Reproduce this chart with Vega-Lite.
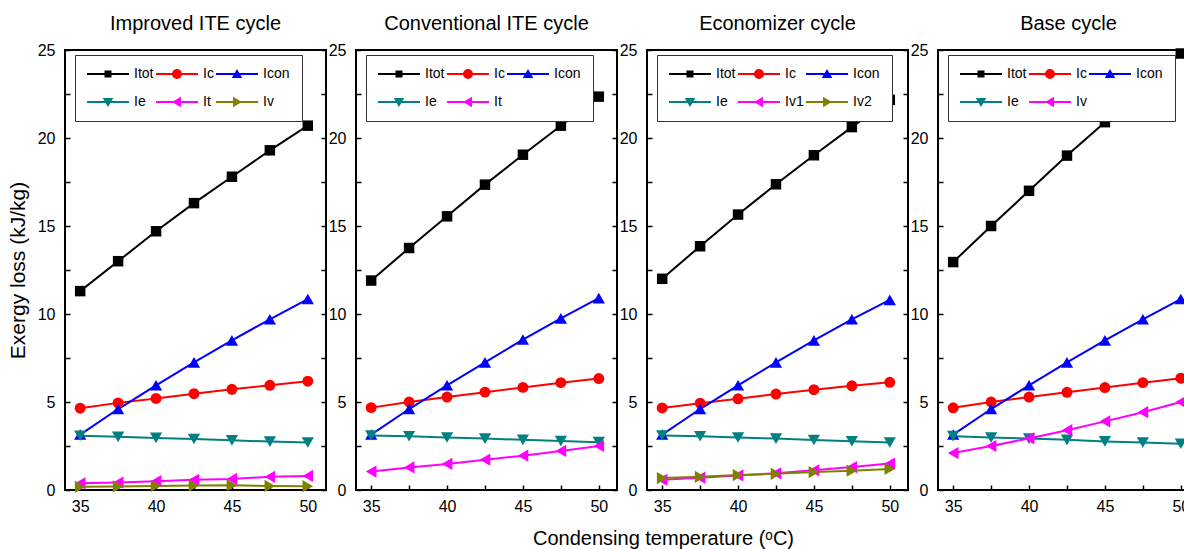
{
  "$schema": "https://vega.github.io/schema/vega-lite/v6.json",
  "padding": {"left": 6, "top": 13, "right": 0, "bottom": 0},
  "background": "white",
  "spacing": 30,
  "bounds": "flush",
  "config": {
    "view": {"stroke": "black", "strokeWidth": 2},
    "legend": {"labelFont": "Liberation Sans", "labelFontSize": 14, "labelColor": "black", "columnPadding": 2, "rowPadding": 14, "padding": 12, "strokeColor": "#333", "fillColor": "white", "cornerRadius": 0}
  },
  "data": {"values": [
    {"c":"imp","s":"Itot","T":35,"v":11.3},{"c":"imp","s":"Itot","T":37.5,"v":13.0},{"c":"imp","s":"Itot","T":40,"v":14.7},{"c":"imp","s":"Itot","T":42.5,"v":16.3},{"c":"imp","s":"Itot","T":45,"v":17.8},{"c":"imp","s":"Itot","T":47.5,"v":19.3},{"c":"imp","s":"Itot","T":50,"v":20.7},
    {"c":"imp","s":"Ic","T":35,"v":4.65},{"c":"imp","s":"Ic","T":37.5,"v":4.95},{"c":"imp","s":"Ic","T":40,"v":5.2},{"c":"imp","s":"Ic","T":42.5,"v":5.47},{"c":"imp","s":"Ic","T":45,"v":5.72},{"c":"imp","s":"Ic","T":47.5,"v":5.95},{"c":"imp","s":"Ic","T":50,"v":6.18},
    {"c":"imp","s":"Icon","T":35,"v":3.15},{"c":"imp","s":"Icon","T":37.5,"v":4.6},{"c":"imp","s":"Icon","T":40,"v":5.95},{"c":"imp","s":"Icon","T":42.5,"v":7.25},{"c":"imp","s":"Icon","T":45,"v":8.5},{"c":"imp","s":"Icon","T":47.5,"v":9.7},{"c":"imp","s":"Icon","T":50,"v":10.85},
    {"c":"imp","s":"Ie","T":35,"v":3.08},{"c":"imp","s":"Ie","T":37.5,"v":3.02},{"c":"imp","s":"Ie","T":40,"v":2.96},{"c":"imp","s":"Ie","T":42.5,"v":2.9},{"c":"imp","s":"Ie","T":45,"v":2.82},{"c":"imp","s":"Ie","T":47.5,"v":2.75},{"c":"imp","s":"Ie","T":50,"v":2.7},
    {"c":"imp","s":"It","T":35,"v":0.38},{"c":"imp","s":"It","T":37.5,"v":0.42},{"c":"imp","s":"It","T":40,"v":0.5},{"c":"imp","s":"It","T":42.5,"v":0.58},{"c":"imp","s":"It","T":45,"v":0.63},{"c":"imp","s":"It","T":47.5,"v":0.75},{"c":"imp","s":"It","T":50,"v":0.8},
    {"c":"imp","s":"Iv","T":35,"v":0.18},{"c":"imp","s":"Iv","T":37.5,"v":0.2},{"c":"imp","s":"Iv","T":40,"v":0.23},{"c":"imp","s":"Iv","T":42.5,"v":0.25},{"c":"imp","s":"Iv","T":45,"v":0.27},{"c":"imp","s":"Iv","T":47.5,"v":0.23},{"c":"imp","s":"Iv","T":50,"v":0.22},
    {"c":"conv","s":"Itot","T":35,"v":11.9},{"c":"conv","s":"Itot","T":37.5,"v":13.75},{"c":"conv","s":"Itot","T":40,"v":15.55},{"c":"conv","s":"Itot","T":42.5,"v":17.35},{"c":"conv","s":"Itot","T":45,"v":19.05},{"c":"conv","s":"Itot","T":47.5,"v":20.7},{"c":"conv","s":"Itot","T":50,"v":22.35},
    {"c":"conv","s":"Ic","T":35,"v":4.68},{"c":"conv","s":"Ic","T":37.5,"v":5.0},{"c":"conv","s":"Ic","T":40,"v":5.28},{"c":"conv","s":"Ic","T":42.5,"v":5.56},{"c":"conv","s":"Ic","T":45,"v":5.83},{"c":"conv","s":"Ic","T":47.5,"v":6.1},{"c":"conv","s":"Ic","T":50,"v":6.33},
    {"c":"conv","s":"Icon","T":35,"v":3.15},{"c":"conv","s":"Icon","T":37.5,"v":4.6},{"c":"conv","s":"Icon","T":40,"v":5.95},{"c":"conv","s":"Icon","T":42.5,"v":7.25},{"c":"conv","s":"Icon","T":45,"v":8.55},{"c":"conv","s":"Icon","T":47.5,"v":9.75},{"c":"conv","s":"Icon","T":50,"v":10.9},
    {"c":"conv","s":"Ie","T":35,"v":3.1},{"c":"conv","s":"Ie","T":37.5,"v":3.05},{"c":"conv","s":"Ie","T":40,"v":2.98},{"c":"conv","s":"Ie","T":42.5,"v":2.92},{"c":"conv","s":"Ie","T":45,"v":2.85},{"c":"conv","s":"Ie","T":47.5,"v":2.78},{"c":"conv","s":"Ie","T":50,"v":2.72},
    {"c":"conv","s":"It","T":35,"v":1.05},{"c":"conv","s":"It","T":37.5,"v":1.28},{"c":"conv","s":"It","T":40,"v":1.48},{"c":"conv","s":"It","T":42.5,"v":1.72},{"c":"conv","s":"It","T":45,"v":1.95},{"c":"conv","s":"It","T":47.5,"v":2.22},{"c":"conv","s":"It","T":50,"v":2.5},
    {"c":"eco","s":"Itot","T":35,"v":12.0},{"c":"eco","s":"Itot","T":37.5,"v":13.85},{"c":"eco","s":"Itot","T":40,"v":15.65},{"c":"eco","s":"Itot","T":42.5,"v":17.37},{"c":"eco","s":"Itot","T":45,"v":19.02},{"c":"eco","s":"Itot","T":47.5,"v":20.62},{"c":"eco","s":"Itot","T":50,"v":22.17},
    {"c":"eco","s":"Ic","T":35,"v":4.66},{"c":"eco","s":"Ic","T":37.5,"v":4.93},{"c":"eco","s":"Ic","T":40,"v":5.18},{"c":"eco","s":"Ic","T":42.5,"v":5.45},{"c":"eco","s":"Ic","T":45,"v":5.7},{"c":"eco","s":"Ic","T":47.5,"v":5.92},{"c":"eco","s":"Ic","T":50,"v":6.12},
    {"c":"eco","s":"Icon","T":35,"v":3.15},{"c":"eco","s":"Icon","T":37.5,"v":4.6},{"c":"eco","s":"Icon","T":40,"v":5.95},{"c":"eco","s":"Icon","T":42.5,"v":7.25},{"c":"eco","s":"Icon","T":45,"v":8.5},{"c":"eco","s":"Icon","T":47.5,"v":9.7},{"c":"eco","s":"Icon","T":50,"v":10.8},
    {"c":"eco","s":"Ie","T":35,"v":3.1},{"c":"eco","s":"Ie","T":37.5,"v":3.05},{"c":"eco","s":"Ie","T":40,"v":2.98},{"c":"eco","s":"Ie","T":42.5,"v":2.92},{"c":"eco","s":"Ie","T":45,"v":2.84},{"c":"eco","s":"Ie","T":47.5,"v":2.77},{"c":"eco","s":"Ie","T":50,"v":2.7},
    {"c":"eco","s":"Iv1","T":35,"v":0.58},{"c":"eco","s":"Iv1","T":37.5,"v":0.7},{"c":"eco","s":"Iv1","T":40,"v":0.83},{"c":"eco","s":"Iv1","T":42.5,"v":0.95},{"c":"eco","s":"Iv1","T":45,"v":1.12},{"c":"eco","s":"Iv1","T":47.5,"v":1.3},{"c":"eco","s":"Iv1","T":50,"v":1.5},
    {"c":"eco","s":"Iv2","T":35,"v":0.68},{"c":"eco","s":"Iv2","T":37.5,"v":0.75},{"c":"eco","s":"Iv2","T":40,"v":0.85},{"c":"eco","s":"Iv2","T":42.5,"v":0.92},{"c":"eco","s":"Iv2","T":45,"v":1.02},{"c":"eco","s":"Iv2","T":47.5,"v":1.1},{"c":"eco","s":"Iv2","T":50,"v":1.2},
    {"c":"base","s":"Itot","T":35,"v":12.95},{"c":"base","s":"Itot","T":37.5,"v":15.0},{"c":"base","s":"Itot","T":40,"v":17.0},{"c":"base","s":"Itot","T":42.5,"v":19.0},{"c":"base","s":"Itot","T":45,"v":20.9},{"c":"base","s":"Itot","T":47.5,"v":22.9},{"c":"base","s":"Itot","T":50,"v":24.8},
    {"c":"base","s":"Ic","T":35,"v":4.67},{"c":"base","s":"Ic","T":37.5,"v":5.0},{"c":"base","s":"Ic","T":40,"v":5.28},{"c":"base","s":"Ic","T":42.5,"v":5.55},{"c":"base","s":"Ic","T":45,"v":5.82},{"c":"base","s":"Ic","T":47.5,"v":6.1},{"c":"base","s":"Ic","T":50,"v":6.35},
    {"c":"base","s":"Icon","T":35,"v":3.15},{"c":"base","s":"Icon","T":37.5,"v":4.6},{"c":"base","s":"Icon","T":40,"v":5.95},{"c":"base","s":"Icon","T":42.5,"v":7.25},{"c":"base","s":"Icon","T":45,"v":8.5},{"c":"base","s":"Icon","T":47.5,"v":9.7},{"c":"base","s":"Icon","T":50,"v":10.85},
    {"c":"base","s":"Ie","T":35,"v":3.06},{"c":"base","s":"Ie","T":37.5,"v":2.98},{"c":"base","s":"Ie","T":40,"v":2.92},{"c":"base","s":"Ie","T":42.5,"v":2.85},{"c":"base","s":"Ie","T":45,"v":2.76},{"c":"base","s":"Ie","T":47.5,"v":2.7},{"c":"base","s":"Ie","T":50,"v":2.63},
    {"c":"base","s":"Iv","T":35,"v":2.1},{"c":"base","s":"Iv","T":37.5,"v":2.5},{"c":"base","s":"Iv","T":40,"v":2.93},{"c":"base","s":"Iv","T":42.5,"v":3.4},{"c":"base","s":"Iv","T":45,"v":3.9},{"c":"base","s":"Iv","T":47.5,"v":4.42},{"c":"base","s":"Iv","T":50,"v":5.0}
  ]},
  "resolve": {"scale": {"color": "independent", "shape": "independent"}, "legend": {"color": "independent", "shape": "independent"}},
  "hconcat": [
    {
      "width": 261, "height": 440,
      "title": {"text": "Improved ITE cycle", "font": "Liberation Sans", "fontSize": 20, "fontWeight": "normal", "color": "black", "offset": 8},
      "transform": [{"filter": "datum.c == 'imp'"}],
      "layer": [
        {
          "encoding": {
            "x": {"field": "T", "type": "quantitative", "scale": {"domain": [34, 51.2], "nice": false, "zero": false}, "axis": {"title": null, "values": [35, 37.5, 40, 42.5, 45, 47.5, 50], "labelExpr": "datum.value % 5 == 0 ? datum.label : ''", "domain": false, "grid": false, "tickSize": -5, "tickColor": "black", "tickWidth": 1.5, "labelFont": "Liberation Sans", "labelFontSize": 16, "labelColor": "black", "labelPadding": 13}},
            "y": {"field": "v", "type": "quantitative", "scale": {"domain": [0, 25], "nice": false}, "axis": {"title": "Exergy loss (kJ/kg)", "titleFont": "Liberation Sans", "titleFontSize": 21, "titleFontWeight": "normal", "titleColor": "black", "titlePadding": 9, "values": [0, 2.5, 5, 7.5, 10, 12.5, 15, 17.5, 20, 22.5, 25], "labelExpr": "datum.value % 5 == 0 ? datum.label : ''", "domain": false, "grid": false, "tickSize": -5, "tickColor": "black", "tickWidth": 1.5, "labelFont": "Liberation Sans", "labelFontSize": 16, "labelColor": "black", "labelPadding": 15}}
          },
          "layer": [
            {"transform": [{"filter": "datum.s == 'Itot'"}], "mark": {"type": "line", "strokeWidth": 2, "color": "#000000"}},
            {"transform": [{"filter": "datum.s == 'Ic'"}], "mark": {"type": "line", "strokeWidth": 2, "color": "#FF0000"}},
            {"transform": [{"filter": "datum.s == 'Icon'"}], "mark": {"type": "line", "strokeWidth": 2, "color": "#0000FF"}},
            {"transform": [{"filter": "datum.s == 'Ie'"}], "mark": {"type": "line", "strokeWidth": 2, "color": "#008080"}},
            {"transform": [{"filter": "datum.s == 'It'"}], "mark": {"type": "line", "strokeWidth": 2, "color": "#FF00FF"}},
            {"transform": [{"filter": "datum.s == 'Iv'"}], "mark": {"type": "line", "strokeWidth": 2, "color": "#808000"}},
            {"transform": [{"filter": "datum.s == 'Itot'"}], "mark": {"type": "point", "filled": true, "opacity": 1, "shape": "square", "size": 110, "color": "#000000"}},
            {"transform": [{"filter": "datum.s == 'Ic'"}], "mark": {"type": "point", "filled": true, "opacity": 1, "shape": "circle", "size": 120, "color": "#FF0000"}},
            {"transform": [{"filter": "datum.s == 'Icon'"}], "mark": {"type": "point", "filled": true, "opacity": 1, "shape": "triangle-up", "size": 150, "color": "#0000FF"}},
            {"transform": [{"filter": "datum.s == 'Ie'"}], "mark": {"type": "point", "filled": true, "opacity": 1, "shape": "triangle-down", "size": 150, "color": "#008080"}},
            {"transform": [{"filter": "datum.s == 'It'"}], "mark": {"type": "point", "filled": true, "opacity": 1, "shape": "triangle-left", "size": 150, "color": "#FF00FF"}},
            {"transform": [{"filter": "datum.s == 'Iv'"}], "mark": {"type": "point", "filled": true, "opacity": 1, "shape": "triangle-right", "size": 150, "color": "#808000"}}
          ]
        },
        {
          "mark": {"type": "point", "filled": true, "opacity": 0},
          "encoding": {
            "x": {"field": "T", "type": "quantitative"},
            "y": {"field": "v", "type": "quantitative", "axis": {"orient": "right", "labels": false, "title": null, "values": [0, 2.5, 5, 7.5, 10, 12.5, 15, 17.5, 20, 22.5, 25], "domain": false, "grid": false, "tickSize": -5, "tickColor": "black", "tickWidth": 1.5}},
            "color": {"field": "s", "type": "nominal", "scale": {"domain": ["Itot", "Ic", "Icon", "Ie", "It", "Iv"], "range": ["#000000", "#FF0000", "#0000FF", "#008080", "#FF00FF", "#808000"]}, "legend": {"title": null, "orient": "none", "legendX": 10, "legendY": 5, "columns": 3, "direction": "horizontal", "symbolSize": 196, "symbolOffset": 14, "labelOffset": 19, "symbolStrokeWidth": 0, "symbolOpacity": 1}},
            "shape": {"field": "s", "type": "nominal", "scale": {"domain": ["Itot", "Ic", "Icon", "Ie", "It", "Iv"], "range": [
              "M-3,-0.13H3V0.13H-3Z M-0.5,-0.5H0.5V0.5H-0.5Z",
              "M-3,-0.13H3V0.13H-3Z M0.71,0A0.71,0.71 0 1,1 -0.71,0A0.71,0.71 0 1,1 0.71,0Z",
              "M-3,-0.13H3V0.13H-3Z M0,-0.7L0.75,0.57L-0.75,0.57Z",
              "M-3,-0.13H3V0.13H-3Z M0,0.7L-0.75,-0.57L0.75,-0.57Z",
              "M-3,-0.13H3V0.13H-3Z M-0.7,0L0.57,-0.75L0.57,0.75Z",
              "M-3,-0.13H3V0.13H-3Z M0.7,0L-0.57,0.75L-0.57,-0.75Z"
            ]}, "legend": {"title": null, "orient": "none", "legendX": 10, "legendY": 5, "columns": 3, "direction": "horizontal", "symbolSize": 196, "symbolOffset": 14, "labelOffset": 19, "symbolStrokeWidth": 0, "symbolOpacity": 1}}
          }
        }
      ],
      "resolve": {"axis": {"y": "independent"}}
    },
    {
      "width": 261, "height": 440,
      "title": {"text": "Conventional ITE cycle", "font": "Liberation Sans", "fontSize": 20, "fontWeight": "normal", "color": "black", "offset": 8},
      "transform": [{"filter": "datum.c == 'conv'"}],
      "layer": [
        {
          "encoding": {
            "x": {"field": "T", "type": "quantitative", "scale": {"domain": [34, 51.2], "nice": false, "zero": false}, "axis": {"title": "Condensing temperature (ᵒC)", "titleX": 307, "titleY": 48, "titleBaseline": "middle", "titleAlign": "center", "titleFont": "Liberation Sans", "titleFontSize": 20, "titleFontWeight": "normal", "titleColor": "black", "values": [35, 37.5, 40, 42.5, 45, 47.5, 50], "labelExpr": "datum.value % 5 == 0 ? datum.label : ''", "domain": false, "grid": false, "tickSize": -5, "tickColor": "black", "tickWidth": 1.5, "labelFont": "Liberation Sans", "labelFontSize": 16, "labelColor": "black", "labelPadding": 13}},
            "y": {"field": "v", "type": "quantitative", "scale": {"domain": [0, 25], "nice": false}, "axis": {"title": null, "values": [0, 2.5, 5, 7.5, 10, 12.5, 15, 17.5, 20, 22.5, 25], "labelExpr": "datum.value % 5 == 0 ? datum.label : ''", "domain": false, "grid": false, "tickSize": -5, "tickColor": "black", "tickWidth": 1.5, "labelFont": "Liberation Sans", "labelFontSize": 16, "labelColor": "black", "labelPadding": 15}}
          },
          "layer": [
            {"transform": [{"filter": "datum.s == 'Itot'"}], "mark": {"type": "line", "strokeWidth": 2, "color": "#000000"}},
            {"transform": [{"filter": "datum.s == 'Ic'"}], "mark": {"type": "line", "strokeWidth": 2, "color": "#FF0000"}},
            {"transform": [{"filter": "datum.s == 'Icon'"}], "mark": {"type": "line", "strokeWidth": 2, "color": "#0000FF"}},
            {"transform": [{"filter": "datum.s == 'Ie'"}], "mark": {"type": "line", "strokeWidth": 2, "color": "#008080"}},
            {"transform": [{"filter": "datum.s == 'It'"}], "mark": {"type": "line", "strokeWidth": 2, "color": "#FF00FF"}},
            {"transform": [{"filter": "datum.s == 'Itot'"}], "mark": {"type": "point", "filled": true, "opacity": 1, "shape": "square", "size": 110, "color": "#000000"}},
            {"transform": [{"filter": "datum.s == 'Ic'"}], "mark": {"type": "point", "filled": true, "opacity": 1, "shape": "circle", "size": 120, "color": "#FF0000"}},
            {"transform": [{"filter": "datum.s == 'Icon'"}], "mark": {"type": "point", "filled": true, "opacity": 1, "shape": "triangle-up", "size": 150, "color": "#0000FF"}},
            {"transform": [{"filter": "datum.s == 'Ie'"}], "mark": {"type": "point", "filled": true, "opacity": 1, "shape": "triangle-down", "size": 150, "color": "#008080"}},
            {"transform": [{"filter": "datum.s == 'It'"}], "mark": {"type": "point", "filled": true, "opacity": 1, "shape": "triangle-left", "size": 150, "color": "#FF00FF"}}
          ]
        },
        {
          "mark": {"type": "point", "filled": true, "opacity": 0},
          "encoding": {
            "x": {"field": "T", "type": "quantitative"},
            "y": {"field": "v", "type": "quantitative", "axis": {"orient": "right", "labels": false, "title": null, "values": [0, 2.5, 5, 7.5, 10, 12.5, 15, 17.5, 20, 22.5, 25], "domain": false, "grid": false, "tickSize": -5, "tickColor": "black", "tickWidth": 1.5}},
            "color": {"field": "s", "type": "nominal", "scale": {"domain": ["Itot", "Ic", "Icon", "Ie", "It"], "range": ["#000000", "#FF0000", "#0000FF", "#008080", "#FF00FF"]}, "legend": {"title": null, "orient": "none", "legendX": 10, "legendY": 5, "columns": 3, "direction": "horizontal", "symbolSize": 196, "symbolOffset": 14, "labelOffset": 19, "symbolStrokeWidth": 0, "symbolOpacity": 1}},
            "shape": {"field": "s", "type": "nominal", "scale": {"domain": ["Itot", "Ic", "Icon", "Ie", "It"], "range": [
              "M-3,-0.13H3V0.13H-3Z M-0.5,-0.5H0.5V0.5H-0.5Z",
              "M-3,-0.13H3V0.13H-3Z M0.71,0A0.71,0.71 0 1,1 -0.71,0A0.71,0.71 0 1,1 0.71,0Z",
              "M-3,-0.13H3V0.13H-3Z M0,-0.7L0.75,0.57L-0.75,0.57Z",
              "M-3,-0.13H3V0.13H-3Z M0,0.7L-0.75,-0.57L0.75,-0.57Z",
              "M-3,-0.13H3V0.13H-3Z M-0.7,0L0.57,-0.75L0.57,0.75Z"
            ]}, "legend": {"title": null, "orient": "none", "legendX": 10, "legendY": 5, "columns": 3, "direction": "horizontal", "symbolSize": 196, "symbolOffset": 14, "labelOffset": 19, "symbolStrokeWidth": 0, "symbolOpacity": 1}}
          }
        }
      ],
      "resolve": {"axis": {"y": "independent"}}
    },
    {
      "width": 261, "height": 440,
      "title": {"text": "Economizer cycle", "font": "Liberation Sans", "fontSize": 20, "fontWeight": "normal", "color": "black", "offset": 8},
      "transform": [{"filter": "datum.c == 'eco'"}],
      "layer": [
        {
          "encoding": {
            "x": {"field": "T", "type": "quantitative", "scale": {"domain": [34, 51.2], "nice": false, "zero": false}, "axis": {"title": null, "values": [35, 37.5, 40, 42.5, 45, 47.5, 50], "labelExpr": "datum.value % 5 == 0 ? datum.label : ''", "domain": false, "grid": false, "tickSize": -5, "tickColor": "black", "tickWidth": 1.5, "labelFont": "Liberation Sans", "labelFontSize": 16, "labelColor": "black", "labelPadding": 13}},
            "y": {"field": "v", "type": "quantitative", "scale": {"domain": [0, 25], "nice": false}, "axis": {"title": null, "values": [0, 2.5, 5, 7.5, 10, 12.5, 15, 17.5, 20, 22.5, 25], "labelExpr": "datum.value % 5 == 0 ? datum.label : ''", "domain": false, "grid": false, "tickSize": -5, "tickColor": "black", "tickWidth": 1.5, "labelFont": "Liberation Sans", "labelFontSize": 16, "labelColor": "black", "labelPadding": 15}}
          },
          "layer": [
            {"transform": [{"filter": "datum.s == 'Itot'"}], "mark": {"type": "line", "strokeWidth": 2, "color": "#000000"}},
            {"transform": [{"filter": "datum.s == 'Ic'"}], "mark": {"type": "line", "strokeWidth": 2, "color": "#FF0000"}},
            {"transform": [{"filter": "datum.s == 'Icon'"}], "mark": {"type": "line", "strokeWidth": 2, "color": "#0000FF"}},
            {"transform": [{"filter": "datum.s == 'Ie'"}], "mark": {"type": "line", "strokeWidth": 2, "color": "#008080"}},
            {"transform": [{"filter": "datum.s == 'Iv1'"}], "mark": {"type": "line", "strokeWidth": 2, "color": "#FF00FF"}},
            {"transform": [{"filter": "datum.s == 'Iv2'"}], "mark": {"type": "line", "strokeWidth": 2, "color": "#808000"}},
            {"transform": [{"filter": "datum.s == 'Itot'"}], "mark": {"type": "point", "filled": true, "opacity": 1, "shape": "square", "size": 110, "color": "#000000"}},
            {"transform": [{"filter": "datum.s == 'Ic'"}], "mark": {"type": "point", "filled": true, "opacity": 1, "shape": "circle", "size": 120, "color": "#FF0000"}},
            {"transform": [{"filter": "datum.s == 'Icon'"}], "mark": {"type": "point", "filled": true, "opacity": 1, "shape": "triangle-up", "size": 150, "color": "#0000FF"}},
            {"transform": [{"filter": "datum.s == 'Ie'"}], "mark": {"type": "point", "filled": true, "opacity": 1, "shape": "triangle-down", "size": 150, "color": "#008080"}},
            {"transform": [{"filter": "datum.s == 'Iv1'"}], "mark": {"type": "point", "filled": true, "opacity": 1, "shape": "triangle-left", "size": 150, "color": "#FF00FF"}},
            {"transform": [{"filter": "datum.s == 'Iv2'"}], "mark": {"type": "point", "filled": true, "opacity": 1, "shape": "triangle-right", "size": 150, "color": "#808000"}}
          ]
        },
        {
          "mark": {"type": "point", "filled": true, "opacity": 0},
          "encoding": {
            "x": {"field": "T", "type": "quantitative"},
            "y": {"field": "v", "type": "quantitative", "axis": {"orient": "right", "labels": false, "title": null, "values": [0, 2.5, 5, 7.5, 10, 12.5, 15, 17.5, 20, 22.5, 25], "domain": false, "grid": false, "tickSize": -5, "tickColor": "black", "tickWidth": 1.5}},
            "color": {"field": "s", "type": "nominal", "scale": {"domain": ["Itot", "Ic", "Icon", "Ie", "Iv1", "Iv2"], "range": ["#000000", "#FF0000", "#0000FF", "#008080", "#FF00FF", "#808000"]}, "legend": {"title": null, "orient": "none", "legendX": 10, "legendY": 5, "columns": 3, "direction": "horizontal", "symbolSize": 196, "symbolOffset": 14, "labelOffset": 19, "symbolStrokeWidth": 0, "symbolOpacity": 1}},
            "shape": {"field": "s", "type": "nominal", "scale": {"domain": ["Itot", "Ic", "Icon", "Ie", "Iv1", "Iv2"], "range": [
              "M-3,-0.13H3V0.13H-3Z M-0.5,-0.5H0.5V0.5H-0.5Z",
              "M-3,-0.13H3V0.13H-3Z M0.71,0A0.71,0.71 0 1,1 -0.71,0A0.71,0.71 0 1,1 0.71,0Z",
              "M-3,-0.13H3V0.13H-3Z M0,-0.7L0.75,0.57L-0.75,0.57Z",
              "M-3,-0.13H3V0.13H-3Z M0,0.7L-0.75,-0.57L0.75,-0.57Z",
              "M-3,-0.13H3V0.13H-3Z M-0.7,0L0.57,-0.75L0.57,0.75Z",
              "M-3,-0.13H3V0.13H-3Z M0.7,0L-0.57,0.75L-0.57,-0.75Z"
            ]}, "legend": {"title": null, "orient": "none", "legendX": 10, "legendY": 5, "columns": 3, "direction": "horizontal", "symbolSize": 196, "symbolOffset": 14, "labelOffset": 19, "symbolStrokeWidth": 0, "symbolOpacity": 1}}
          }
        }
      ],
      "resolve": {"axis": {"y": "independent"}}
    },
    {
      "width": 261, "height": 440,
      "title": {"text": "Base cycle", "font": "Liberation Sans", "fontSize": 20, "fontWeight": "normal", "color": "black", "offset": 8},
      "transform": [{"filter": "datum.c == 'base'"}],
      "layer": [
        {
          "encoding": {
            "x": {"field": "T", "type": "quantitative", "scale": {"domain": [34, 51.2], "nice": false, "zero": false}, "axis": {"title": null, "values": [35, 37.5, 40, 42.5, 45, 47.5, 50], "labelExpr": "datum.value % 5 == 0 ? datum.label : ''", "domain": false, "grid": false, "tickSize": -5, "tickColor": "black", "tickWidth": 1.5, "labelFont": "Liberation Sans", "labelFontSize": 16, "labelColor": "black", "labelPadding": 13}},
            "y": {"field": "v", "type": "quantitative", "scale": {"domain": [0, 25], "nice": false}, "axis": {"title": null, "values": [0, 2.5, 5, 7.5, 10, 12.5, 15, 17.5, 20, 22.5, 25], "labelExpr": "datum.value % 5 == 0 ? datum.label : ''", "domain": false, "grid": false, "tickSize": -5, "tickColor": "black", "tickWidth": 1.5, "labelFont": "Liberation Sans", "labelFontSize": 16, "labelColor": "black", "labelPadding": 15}}
          },
          "layer": [
            {"transform": [{"filter": "datum.s == 'Itot'"}], "mark": {"type": "line", "strokeWidth": 2, "color": "#000000"}},
            {"transform": [{"filter": "datum.s == 'Ic'"}], "mark": {"type": "line", "strokeWidth": 2, "color": "#FF0000"}},
            {"transform": [{"filter": "datum.s == 'Icon'"}], "mark": {"type": "line", "strokeWidth": 2, "color": "#0000FF"}},
            {"transform": [{"filter": "datum.s == 'Ie'"}], "mark": {"type": "line", "strokeWidth": 2, "color": "#008080"}},
            {"transform": [{"filter": "datum.s == 'Iv'"}], "mark": {"type": "line", "strokeWidth": 2, "color": "#FF00FF"}},
            {"transform": [{"filter": "datum.s == 'Itot'"}], "mark": {"type": "point", "filled": true, "opacity": 1, "shape": "square", "size": 110, "color": "#000000"}},
            {"transform": [{"filter": "datum.s == 'Ic'"}], "mark": {"type": "point", "filled": true, "opacity": 1, "shape": "circle", "size": 120, "color": "#FF0000"}},
            {"transform": [{"filter": "datum.s == 'Icon'"}], "mark": {"type": "point", "filled": true, "opacity": 1, "shape": "triangle-up", "size": 150, "color": "#0000FF"}},
            {"transform": [{"filter": "datum.s == 'Ie'"}], "mark": {"type": "point", "filled": true, "opacity": 1, "shape": "triangle-down", "size": 150, "color": "#008080"}},
            {"transform": [{"filter": "datum.s == 'Iv'"}], "mark": {"type": "point", "filled": true, "opacity": 1, "shape": "triangle-left", "size": 150, "color": "#FF00FF"}}
          ]
        },
        {
          "mark": {"type": "point", "filled": true, "opacity": 0},
          "encoding": {
            "x": {"field": "T", "type": "quantitative"},
            "y": {"field": "v", "type": "quantitative", "axis": {"orient": "right", "labels": false, "title": null, "values": [0, 2.5, 5, 7.5, 10, 12.5, 15, 17.5, 20, 22.5, 25], "domain": false, "grid": false, "tickSize": -5, "tickColor": "black", "tickWidth": 1.5}},
            "color": {"field": "s", "type": "nominal", "scale": {"domain": ["Itot", "Ic", "Icon", "Ie", "Iv"], "range": ["#000000", "#FF0000", "#0000FF", "#008080", "#FF00FF"]}, "legend": {"title": null, "orient": "none", "legendX": 10, "legendY": 5, "columns": 3, "direction": "horizontal", "symbolSize": 196, "symbolOffset": 14, "labelOffset": 19, "symbolStrokeWidth": 0, "symbolOpacity": 1}},
            "shape": {"field": "s", "type": "nominal", "scale": {"domain": ["Itot", "Ic", "Icon", "Ie", "Iv"], "range": [
              "M-3,-0.13H3V0.13H-3Z M-0.5,-0.5H0.5V0.5H-0.5Z",
              "M-3,-0.13H3V0.13H-3Z M0.71,0A0.71,0.71 0 1,1 -0.71,0A0.71,0.71 0 1,1 0.71,0Z",
              "M-3,-0.13H3V0.13H-3Z M0,-0.7L0.75,0.57L-0.75,0.57Z",
              "M-3,-0.13H3V0.13H-3Z M0,0.7L-0.75,-0.57L0.75,-0.57Z",
              "M-3,-0.13H3V0.13H-3Z M-0.7,0L0.57,-0.75L0.57,0.75Z"
            ]}, "legend": {"title": null, "orient": "none", "legendX": 10, "legendY": 5, "columns": 3, "direction": "horizontal", "symbolSize": 196, "symbolOffset": 14, "labelOffset": 19, "symbolStrokeWidth": 0, "symbolOpacity": 1}}
          }
        }
      ],
      "resolve": {"axis": {"y": "independent"}}
    }
  ]
}
